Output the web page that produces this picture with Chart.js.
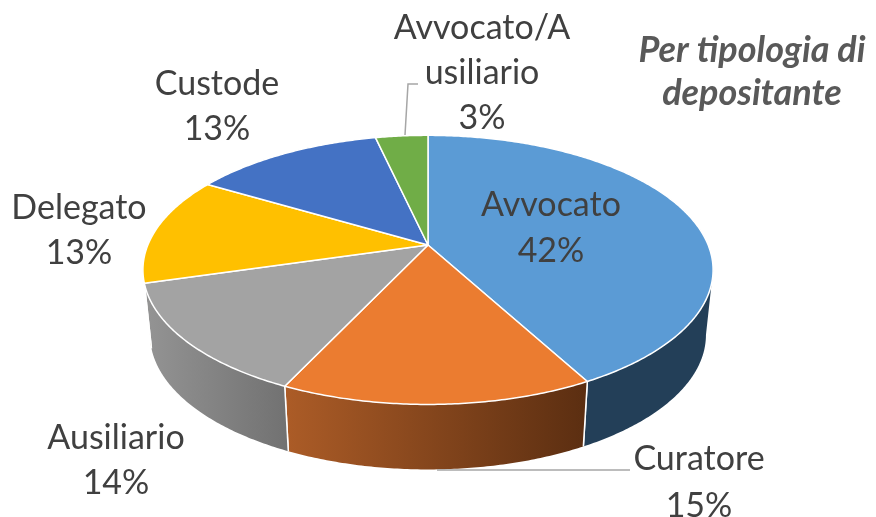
<!DOCTYPE html>
<html><head><meta charset="utf-8">
<style>html,body{margin:0;padding:0;background:#fff}#w{position:relative;width:876px;height:517px}</style>
<script src="https://cdn.jsdelivr.net/npm/chart.js@4"></script>
</head><body><div id="w"><canvas id="c" width="876" height="517"></canvas></div>
<script>
const categories = ["Avvocato","Curatore","Ausiliario","Delegato","Custode","Avvocato/Ausiliario"];
const shares = [42.1,14.9,13.5,13,12.95,3.55];
const percentLabels = ["42%","15%","14%","13%","13%","3%"];
const wrappedNames = [["Avvocato"],["Curatore"],["Ausiliario"],["Delegato"],["Custode"],["Avvocato/A","usiliario"]];
const faceColors = ["#5B9BD5","#EB7C30","#A3A3A3","#FFC000","#4472C4","#70AD47"];
const wallColors = [["#233F58","#233F58"],["#AC5C27","#5B2E11"],["#949494","#727272"],["#997300","#997300"],["#294577","#294577"],["#43682B","#43682B"]];
const labelSpots = [[551,205,46],[699,459,47],[116,438,45],[79,208,45],[217,84,45],[482,28,45]];
const titleLines = ["Per tipologia di","depositante"];
const titleSpots = [[752,50],[752,93]];
const leaders = [[[405,135],[408,84],[418,84]],[[437,470],[630,470]]];

// perspective of the tilted disc (factors relative to the library's radius)
const P = {k:-0.185, sx:1.147, sy:0.532, depth:65, baseShrink:0.975, wallFrom:Math.PI*(100.7/180-0.5), wallTo:Math.PI*(259.3/180-0.5)};
function project(el,a,shrink,dy){
  const u=Math.cos(a), v=Math.sin(a), w=1+P.k*v, R=el.outerRadius;
  return [el.x+(shrink||1)*P.sx*R*u/w, el.y+P.sy*R*v/w+(dy||0)];
}
function steps(a0,a1){const n=Math.max(2,Math.ceil(Math.abs(a1-a0)/0.01)),r=[];for(let i=0;i<=n;i++)r.push(a0+(a1-a0)*i/n);return r;}

Chart.ArcElement.prototype.draw = function(ctx){
  const o=this.options;
  ctx.save();
  ctx.beginPath();
  ctx.moveTo(this.x,this.y);
  steps(this.startAngle,this.endAngle).forEach(a=>{const p=project(this,a);ctx.lineTo(p[0],p[1]);});
  ctx.closePath();
  ctx.fillStyle=o.backgroundColor;ctx.fill();
  ctx.lineJoin='round';ctx.strokeStyle=o.borderColor;ctx.lineWidth=o.borderWidth;ctx.stroke();
  ctx.restore();
};

const pie3d = {
  id:'pie3d',
  beforeDatasetsDraw(chart){
    const ctx=chart.ctx;
    chart.getDatasetMeta(0).data.forEach((el,i)=>{
      const a0=Math.max(el.startAngle,P.wallFrom), a1=Math.min(el.endAngle,P.wallTo);
      if(a1<=a0) return;
      const top=steps(a0,a1).map(a=>project(el,a));
      const base=steps(a1,a0).map(a=>project(el,a,P.baseShrink,P.depth));
      const xs=top.map(p=>p[0]);
      const g=ctx.createLinearGradient(Math.min(...xs),0,Math.max(...xs),0);
      g.addColorStop(0,wallColors[i][0]);g.addColorStop(1,wallColors[i][1]);
      ctx.save();
      ctx.beginPath();
      top.concat(base).forEach((p,j)=>j?ctx.lineTo(p[0],p[1]):ctx.moveTo(p[0],p[1]));
      ctx.closePath();
      ctx.fillStyle=g;ctx.fill();
      ctx.restore();
      // white seams at slice borders on the wall
      ctx.save();ctx.strokeStyle='#fff';ctx.lineWidth=1.5;
      [[a0,el.startAngle],[a1,el.endAngle]].forEach(q=>{
        if(q[0]!==q[1])return;
        const s=project(el,q[0]),e=project(el,q[0],P.baseShrink,P.depth);
        ctx.beginPath();ctx.moveTo(s[0],s[1]);ctx.lineTo(e[0],e[1]);ctx.stroke();
      });
      ctx.restore();
    });
  },
  afterDatasetsDraw(chart){
    const ctx=chart.ctx;
    ctx.save();
    ctx.strokeStyle='#A6A6A6';ctx.lineWidth=1.5;
    leaders.forEach(l=>{ctx.beginPath();l.forEach((p,j)=>j?ctx.lineTo(p[0],p[1]):ctx.moveTo(p[0],p[1]));ctx.stroke();});
    ctx.textAlign='center';ctx.textBaseline='middle';
    ctx.fillStyle='#404040';
    ctx.font='34px Lato, Carlito, sans-serif';
    wrappedNames.forEach((names,i)=>{const s=labelSpots[i];names.concat(percentLabels[i]).forEach((t,j)=>ctx.fillText(t,s[0],s[1]+j*s[2]));});
    ctx.fillStyle='#595959';
    ctx.font='italic bold 36px Lato, Carlito, sans-serif';
    titleLines.forEach((t,i)=>ctx.fillText(t,titleSpots[i][0],titleSpots[i][1]));
    ctx.restore();
  }
};

new Chart(document.getElementById('c'),{
  type:'pie',
  data:{labels:categories,datasets:[{data:shares,backgroundColor:faceColors,borderColor:'#FFFFFF',borderWidth:1.5}]},
  options:{responsive:false,animation:false,layout:{padding:{left:0,top:0,right:20,bottom:27}},
    plugins:{legend:{display:false},tooltip:{enabled:false},title:{display:false}}},
  plugins:[pie3d]
});
</script></body></html>
